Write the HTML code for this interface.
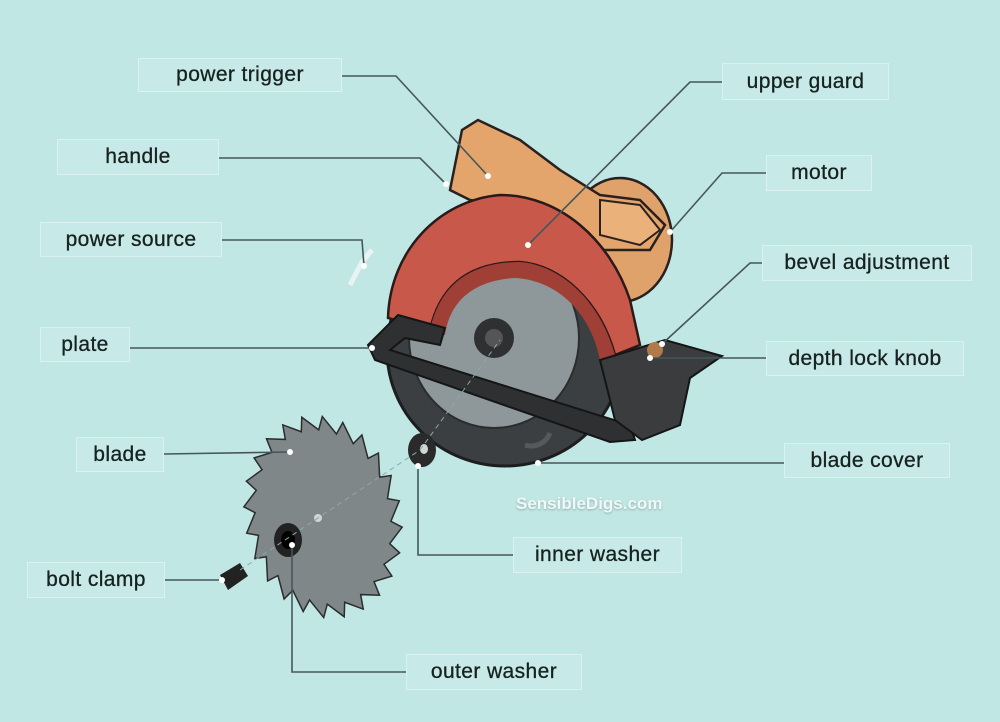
<!DOCTYPE html>
<html><head><meta charset="utf-8"><style>
html,body{margin:0;padding:0}
body{width:1000px;height:722px;background:#c1e7e4;position:relative;overflow:hidden;font-family:"Liberation Sans",sans-serif}
.l{position:absolute;box-sizing:border-box;background:#c7eae8;border:1.5px solid #d9f3f1;color:#17211f;font-size:21px;display:flex;align-items:center;justify-content:center;letter-spacing:0.4px;-webkit-text-stroke:0.3px #17211f}
svg{position:absolute;left:0;top:0}
.wm{position:absolute;left:516px;top:494px;font-size:17px;color:#eef9f8;font-weight:bold;text-shadow:0 1px 2px rgba(0,0,0,.25)}
</style></head><body>
<svg width="1000" height="722" viewBox="0 0 1000 722">
<!-- blade cover -->
<ellipse cx="505" cy="350" rx="118" ry="116" fill="#3c3f42" stroke="#1c1d1f" stroke-width="3"/>
<path d="M525 445 a20 20 0 0 0 25 -12" stroke="#55595c" stroke-width="5" fill="none"/>
<!-- gray disc -->
<ellipse cx="494" cy="338" rx="85" ry="90" fill="#8e9799" stroke="#2a2c2e" stroke-width="2"/>
<!-- motor -->
<ellipse cx="620" cy="240" rx="52" ry="62" fill="#dea26a" stroke="#2a2020" stroke-width="2.5"/>
<!-- handle -->
<path d="M462 130 L478 120 L520 140 L560 170 L600 195 L640 200 L665 225 L650 250 L600 250 L560 235 L520 215 L500 205 L470 200 L450 190 Z" fill="#e3a56c" stroke="#2a2020" stroke-width="2.5"/>
<path d="M600 200 L640 205 L660 230 L640 245 L600 235 Z" fill="#eab27a" stroke="#2a2020" stroke-width="2"/>
<!-- red guard -->
<path d="M388 318 C390 250 440 200 500 195 C560 195 610 240 630 300 L640 345 L615 355 C600 300 560 265 520 262 C470 262 440 285 430 330 Z" fill="#c8584a" stroke="#2a1a1a" stroke-width="2.5"/>
<path d="M430 330 C440 285 470 262 520 262 C560 265 600 300 615 355 L600 360 C590 310 555 280 515 278 C475 280 450 300 445 335 Z" fill="#9f3f36"/>
<!-- plate -->
<path d="M368 345 L398 315 L445 328 L440 345 L405 338 L390 350 L630 425 L635 440 L610 442 L375 360 Z" fill="#2e3032" stroke="#141516" stroke-width="2"/>
<path d="M600 360 L665 340 L722 356 L690 378 L680 425 L642 440 L615 420 Z" fill="#3a3c3e" stroke="#141516" stroke-width="2"/>
<circle cx="494" cy="338" r="20" fill="#2e3032"/><circle cx="494" cy="338" r="9" fill="#555"/>
<circle cx="655" cy="350" r="8" fill="#b07a4a"/>
<!-- cord -->
<path d="M350 285 L362 262 L372 250" stroke="#e8f4f2" stroke-width="5" fill="none"/>
<!-- loose blade -->
<g transform="rotate(-12 323 517)">
<polygon fill="#7f8789" stroke="#2a2c2e" stroke-width="1.5" points="401,517 388.5,535.3 398.3,543.4 382.7,557 390.5,568 372.8,575.9 378.1,589.1 359.5,590.8 362,605.3 343.7,600.7 343.2,615.5 326.5,604.9 323,619 309.1,603.1 302.8,615.5 292.6,595.4 284,605.3 278.2,582.4 267.9,589.1 266.8,565 255.5,568 259.3,544.2 247.7,543.4 256.1,521.6 245,517 257.5,498.7 247.7,490.6 263.3,477 255.5,466 273.2,458.1 267.9,444.9 286.5,443.2 284,428.7 302.3,433.3 302.8,418.5 319.5,429.1 323,415 336.9,430.9 343.2,418.5 353.4,438.6 362,428.7 367.8,451.6 378.1,444.9 379.2,469 390.5,466 386.7,489.8 398.3,490.6 389.9,512.4"/>
</g>
<circle cx="318" cy="518" r="4" fill="#cfd6d6"/>
<ellipse cx="288" cy="540" rx="14" ry="17" fill="#222"/><ellipse cx="288" cy="540" rx="7" ry="9" fill="#000"/>
<ellipse cx="422" cy="450" rx="14" ry="17" fill="#2a2a2a"/><ellipse cx="424" cy="449" rx="4" ry="5" fill="#cfd6d6"/>
<path d="M220 575 L240 563 L248 576 L228 590 Z" fill="#222"/>
<path d="M240 570 L420 450 L500 340" stroke="#8aa" stroke-width="1" stroke-dasharray="5 4" fill="none"/>
<!-- leader lines -->
<g stroke="#45575a" stroke-width="1.6" fill="none">
<polyline points="342,76 396,76 488,176"/>
<polyline points="219,158 420,158 446,184"/>
<polyline points="222,240 362,240 364,266"/>
<polyline points="130,348 372,348"/>
<polyline points="164,454 290,452"/>
<polyline points="165,580 222,580"/>
<polyline points="722,82 690,82 528,245"/>
<polyline points="766,173 722,173 670,232"/>
<polyline points="762,263 750,263 662,344"/>
<polyline points="766,358 650,358"/>
<polyline points="784,463 538,463"/>
<polyline points="513,555 418,555 418,466"/>
<polyline points="406,672 292,672 292,545"/>
</g>
<g fill="#fff">
<circle cx="488" cy="176" r="3"/><circle cx="446" cy="184" r="3"/><circle cx="364" cy="266" r="3"/><circle cx="372" cy="348" r="3"/><circle cx="290" cy="452" r="3"/><circle cx="222" cy="580" r="3"/><circle cx="528" cy="245" r="3"/><circle cx="670" cy="232" r="3"/><circle cx="662" cy="344" r="3"/><circle cx="650" cy="358" r="3"/><circle cx="538" cy="463" r="3"/><circle cx="418" cy="466" r="3"/><circle cx="292" cy="545" r="3"/>
</g>
</svg>
<div class="l" style="left:138px;top:58px;width:204px;height:34px">power trigger</div>
<div class="l" style="left:57px;top:139px;width:162px;height:36px">handle</div>
<div class="l" style="left:40px;top:222px;width:182px;height:35px">power source</div>
<div class="l" style="left:40px;top:327px;width:90px;height:35px">plate</div>
<div class="l" style="left:76px;top:437px;width:88px;height:35px">blade</div>
<div class="l" style="left:27px;top:562px;width:138px;height:36px">bolt clamp</div>
<div class="l" style="left:722px;top:63px;width:167px;height:37px">upper guard</div>
<div class="l" style="left:766px;top:155px;width:106px;height:36px">motor</div>
<div class="l" style="left:762px;top:245px;width:210px;height:36px">bevel adjustment</div>
<div class="l" style="left:766px;top:341px;width:198px;height:35px">depth lock knob</div>
<div class="l" style="left:784px;top:443px;width:166px;height:35px">blade cover</div>
<div class="l" style="left:513px;top:537px;width:169px;height:36px">inner washer</div>
<div class="l" style="left:406px;top:654px;width:176px;height:36px">outer washer</div>
<div class="wm">SensibleDigs.com</div>
</body></html>
